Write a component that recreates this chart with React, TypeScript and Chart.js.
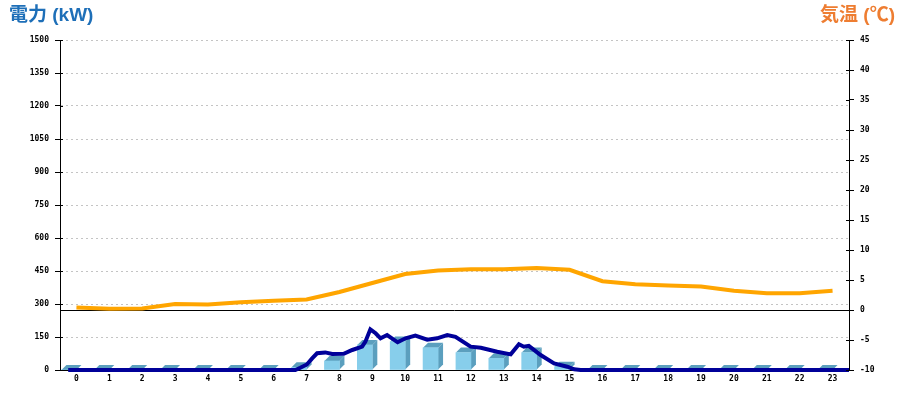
import React, { useEffect, useRef } from "react";
import { Chart, registerables } from "chart.js";

Chart.register(...registerables);

// ---- data ----
const hourLabels = ["0","1","2","3","4","5","6","7","8","9","10","11","12","13","14","15","16","17","18","19","20","21","22","23"];
// hourly power (kW) bars
const powerBars = [0,0,0,0,0,0,0,12,41,114,129,101,79,53,79,15,0,0,0,0,0,0,0,0];
// hourly temperature (°C)
const temperature = [0.4,0.2,0.25,1.0,0.9,1.3,1.55,1.75,3.0,4.5,6.0,6.6,6.8,6.8,7.0,6.7,4.8,4.3,4.1,3.9,3.2,2.8,2.8,3.2];
// fine-grained power line (time in hours, kW)
const powerLineTimes = [-0.25,6.66,6.81,7.01,7.17,7.32,7.57,7.78,8.13,8.39,8.69,8.79,8.94,9.10,9.25,9.45,9.77,10.01,10.31,10.67,10.97,11.28,11.53,11.99,12.30,12.80,13.21,13.46,13.61,13.76,14.12,14.53,14.93,15.14,15.34,23.5];
const powerLineValues = [0,0,10,25,53,76,80,73,74,91,106,129,185,167,144,159,126,144,156,138,144,159,151,106,101,83,71,117,106,110,68,30,15,3,0,0];

const leftMin = 0, leftMax = 1500, leftStep = 150;
const rightMin = -10, rightMax = 45, rightStep = 5;

const FRONT = "#87CEEB";
const SIDE = "#5B9FBE";
const NAVY = "#000099";
const ORANGE = "#FFA500";

const bar3d = {
  id: "bar3d",
  beforeDatasetsDraw(chart: any) {
    const meta = chart.getDatasetMeta(0);
    const ctx = chart.ctx;
    const d = 5;
    ctx.save();
    ctx.fillStyle = SIDE;
    meta.data.forEach((el: any) => {
      const { x, y, base, width } = el.getProps(["x", "y", "base", "width"], true);
      const l = x - width / 2, r = x + width / 2;
      ctx.beginPath();
      ctx.moveTo(l, y); ctx.lineTo(l + d, y - d); ctx.lineTo(r + d, y - d); ctx.lineTo(r, y);
      ctx.closePath(); ctx.fill();
      ctx.beginPath();
      ctx.moveTo(r, y); ctx.lineTo(r + d, y - d); ctx.lineTo(r + d, base - d); ctx.lineTo(r, base);
      ctx.closePath(); ctx.fill();
    });
    ctx.restore();
  },
};

// small tick marks that cross into the plot area, like the original
const innerTicks = {
  id: "innerTicks",
  afterDraw(chart: any) {
    const ctx = chart.ctx;
    const { left, right } = chart.chartArea;
    ctx.save();
    ctx.strokeStyle = "#000";
    ctx.lineWidth = 1;
    const ys = chart.scales.y;
    ys.ticks.forEach((t: any) => {
      const py = Math.round(ys.getPixelForValue(t.value)) + 0.5;
      ctx.beginPath(); ctx.moveTo(left, py); ctx.lineTo(left + 3, py); ctx.stroke();
    });
    const yr = chart.scales.y1;
    yr.ticks.forEach((t: any) => {
      const py = Math.round(yr.getPixelForValue(t.value)) + 0.5;
      ctx.beginPath(); ctx.moveTo(right - 3, py); ctx.lineTo(right, py); ctx.stroke();
    });
    ctx.restore();
  },
};

export default function App() {
  const ref = useRef<HTMLCanvasElement | null>(null);
  useEffect(() => {
    if (!ref.current) return;
    const font = { family: "'DejaVu Sans Mono', monospace", size: 8, weight: "bold" as const };
    const chart = new Chart(ref.current, {
      type: "bar",
      data: {
        labels: hourLabels,
        datasets: [
          {
            type: "bar",
            data: powerBars,
            backgroundColor: FRONT,
            borderWidth: 0,
            barThickness: 15,
            xAxisID: "x",
            yAxisID: "y",
            order: 3,
          } as any,
          {
            type: "line",
            data: powerLineTimes.map((t, i) => ({ x: t, y: powerLineValues[i] })),
            borderColor: NAVY,
            borderWidth: 4,
            pointRadius: 0,
            tension: 0,
            xAxisID: "xl",
            yAxisID: "y",
            clip: 6,
            order: 1,
          } as any,
          {
            type: "line",
            data: temperature,
            borderColor: ORANGE,
            borderWidth: 4,
            pointRadius: 0,
            tension: 0,
            xAxisID: "x",
            yAxisID: "y1",
            clip: 6,
            order: 2,
          } as any,
        ],
      },
      plugins: [bar3d, innerTicks],
      options: {
        responsive: false,
        animation: false,
        layout: { padding: { top: 40, left: 0, right: 0, bottom: 0 } },
        plugins: { legend: { display: false }, tooltip: { enabled: false } },
        scales: {
          x: {
            type: "category",
            offset: true,
            grid: { display: false, drawTicks: false, tickLength: 0 },
            border: { display: true, color: "#000", width: 1 },
            ticks: { color: "#000", font, padding: 4, maxRotation: 0, autoSkip: false },
            afterFit: (s: any) => { s.height = 30; },
          },
          xl: {
            type: "linear",
            display: false,
            offset: false,
            bounds: "data",
            min: -0.5,
            max: 23.5,
            grid: { offset: false },
          },
          y: {
            position: "left",
            min: leftMin,
            max: leftMax,
            ticks: { stepSize: leftStep, color: "#000", font, padding: 6, callback: (v: any) => String(v) },
            grid: {
              color: (c: any) => (c.tick && c.tick.value === 0 ? "rgba(0,0,0,0)" : "#c4c4c4"),
              tickColor: "#000",
              tickLength: 5,
            },
            border: { display: true, color: "#000", width: 1, dash: [2, 3] },
            afterFit: (s: any) => { s.width = 60; },
          },
          y1: {
            position: "right",
            min: rightMin,
            max: rightMax,
            ticks: { stepSize: rightStep, color: "#000", font, padding: 6, callback: (v: any) => String(v) },
            grid: {
              color: (c: any) => (c.tick && c.tick.value === 0 ? "#000" : "rgba(0,0,0,0)"),
              tickColor: "#000",
              tickLength: 5,
            },
            border: { display: true, color: "#000", width: 1 },
            afterFit: (s: any) => { s.width = 51; },
          },
        },
      } as any,
    });
    return () => chart.destroy();
  }, []);

  const titleBase: React.CSSProperties = {
    position: "absolute",
    top: 4,
    fontFamily: "'Liberation Sans', 'Noto Sans CJK JP', sans-serif",
    fontWeight: 700,
    fontSize: 19,
    lineHeight: "22px",
    whiteSpace: "nowrap",
  };

  return (
    <div style={{ position: "fixed", left: 0, top: 0, width: 900, height: 400, background: "#fff" }}>
      <canvas ref={ref} width={900} height={400} style={{ display: "block" }} />
      <div style={{ ...titleBase, left: 9, color: "#1E6FB8" }}>電力 (kW)</div>
      <div style={{ ...titleBase, right: 5, color: "#EE7D31" }}>気温 (℃)</div>
    </div>
  );
}
